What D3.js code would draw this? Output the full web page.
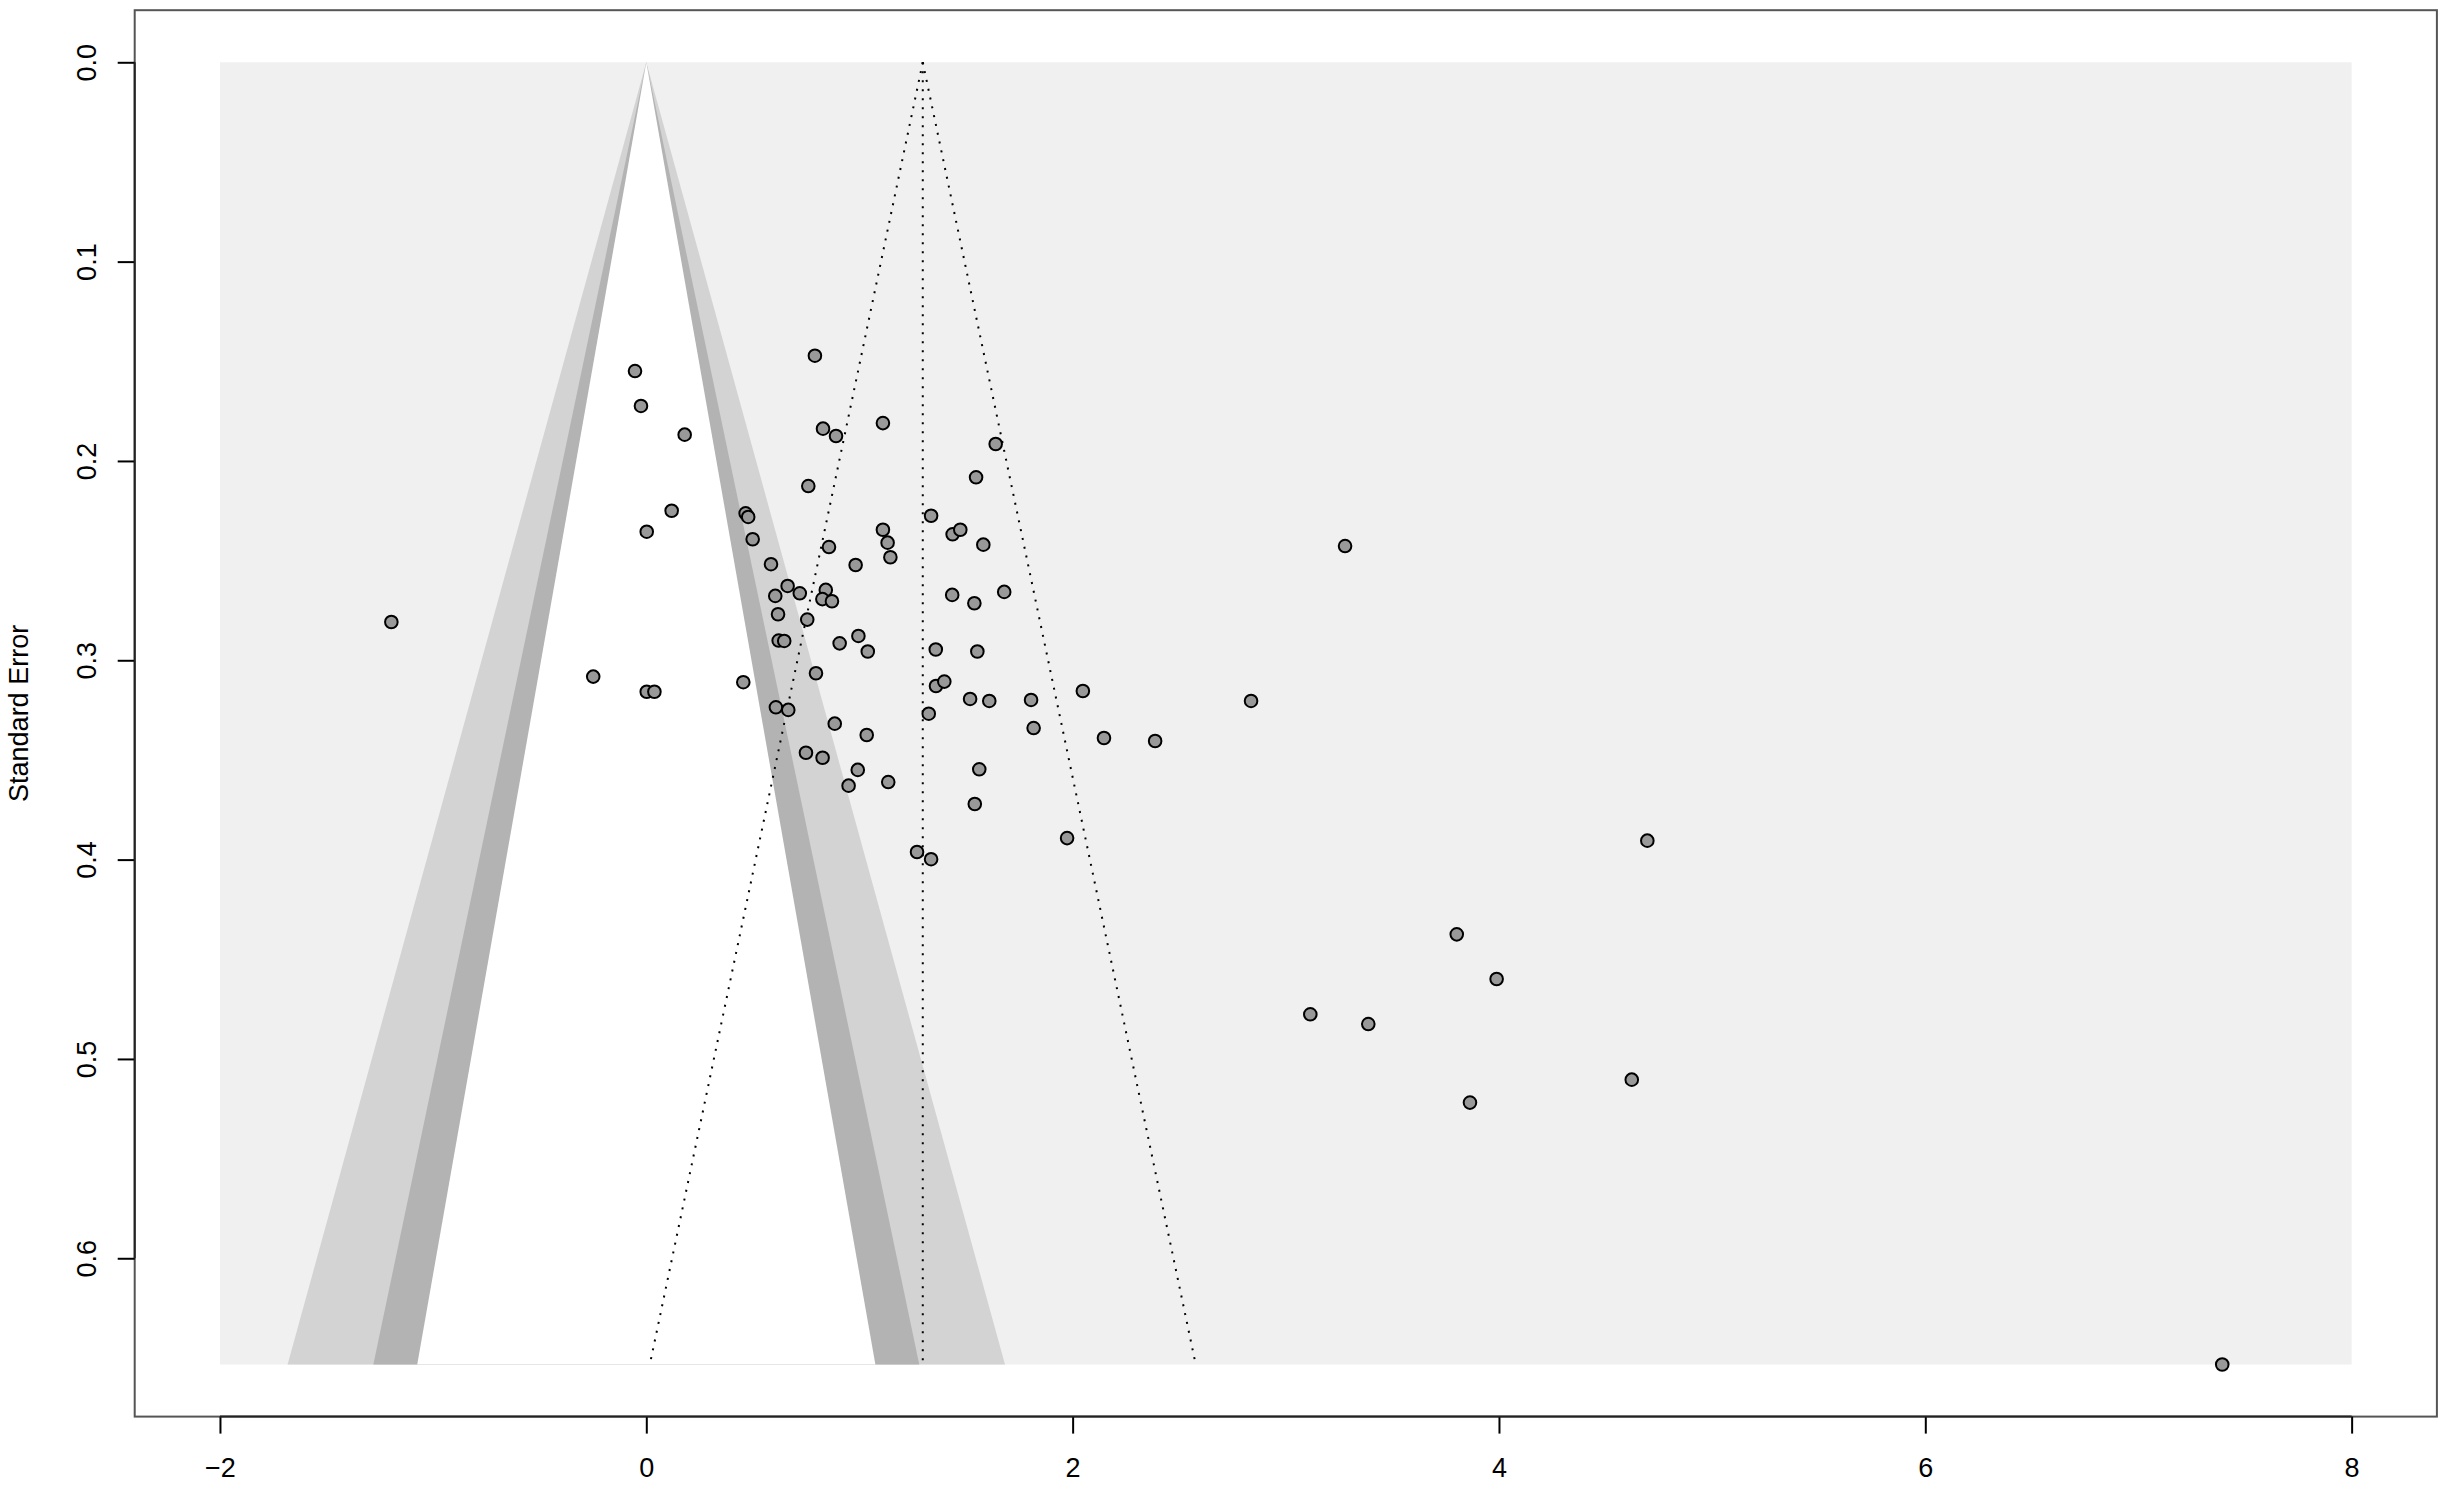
<!DOCTYPE html>
<html>
<head>
<meta charset="utf-8">
<script src="https://cdn.jsdelivr.net/npm/d3@7"></script>
<style>
  body { margin: 0; background: #fff; }
  text { font-family: 'Liberation Sans', Arial, sans-serif; }
</style>
</head>
<body>
<div id="funnel"></div>
<script>
// observed effects (yi) and their standard errors (sei)
const yi = [
  -0.053, -0.025, 0.180, 0.119, 0.002, 0.791, 0.829, 0.890, 1.110, 1.639,
  0.760, 1.547, 0.466, 0.478, 0.499, 1.336, 1.110, 1.132, 1.145, 1.437,
  1.473, 1.581, 0.857, 0.585, 0.982, 0.663, 0.720, 0.605, 0.842, 0.826,
  0.871, 1.435, 1.539, 1.679, 0.618, 0.755, 0.621, 0.647, 0.907, 0.995,
  1.039, 1.358, 1.553,
  -0.249, 0.002, 0.038, 0.455, 0.796, 1.359, 1.398, 1.519, 1.609, 0.608,
  0.666, 1.325, 0.884, 1.034, 0.749, 0.827, 0.992, 0.949, 1.135, 1.562,
  1.541, 1.270, 1.336,
  2.048, 2.837, 2.147, 2.387, 1.974, 1.805, 1.817, 3.278, -1.196,
  4.696, 3.802, 3.989, 3.115, 3.387, 4.623, 3.864, 7.393
];
const sei = [
  0.1549, 0.1724, 0.1868, 0.2250, 0.2355, 0.1472, 0.1838, 0.1875, 0.1810, 0.1915,
  0.2126, 0.2082, 0.2263, 0.2281, 0.2393, 0.2275, 0.2345, 0.2410, 0.2483, 0.2368,
  0.2345, 0.2420, 0.2432, 0.2518, 0.2522, 0.2627, 0.2664, 0.2677, 0.2647, 0.2693,
  0.2704, 0.2672, 0.2714, 0.2657, 0.2769, 0.2796, 0.2901, 0.2903, 0.2915, 0.2878,
  0.2956, 0.2946, 0.2956,
  0.3082, 0.3158, 0.3158, 0.3110, 0.3065, 0.3129, 0.3107, 0.3194, 0.3204, 0.3236,
  0.3249, 0.3268, 0.3318, 0.3375, 0.3464, 0.3489, 0.3550, 0.3629, 0.3611, 0.3547,
  0.3721, 0.3962, 0.3998,
  0.3154, 0.3204, 0.3390, 0.3405, 0.3892, 0.3199, 0.3340, 0.2427, 0.2808,
  0.3905, 0.4375, 0.4599, 0.4776, 0.4825, 0.5104, 0.5219, 0.6533
];

const estimate = 1.297;           // pooled estimate (dotted funnel centre)
const refline = 0;                // contour funnel centre
const levels = [99, 95, 90];      // contour levels, outer to inner
const zcrit = [2.5758, 1.9600, 1.6449];
const shades = ['#d3d3d3', '#b3b3b3', '#ffffff'];
const xTicks = [-2, 0, 2, 4, 6, 8];
const yTicks = [0, 0.1, 0.2, 0.3, 0.4, 0.5, 0.6];
const xlim = [-2, 8];

const W = 2445, H = 1489;
const plot = { left: 134.7, right: 2436.9, top: 10.2, bottom: 1416.6 };

const seMax = d3.max(sei);
const xPad = (xlim[1] - xlim[0]) * 0.04;
const yPad = seMax * 0.04;

const x = d3.scaleLinear().domain([xlim[0] - xPad, xlim[1] + xPad]).range([plot.left, plot.right]);
const y = d3.scaleLinear().domain([-yPad, seMax + yPad]).range([plot.top, plot.bottom]);

const svg = d3.select('#funnel')
  .append('svg')
  .attr('width', W)
  .attr('height', H);

svg.append('rect').attr('width', W).attr('height', H).attr('fill', '#fff');

// background of the region outside the outermost contour
svg.append('rect')
  .attr('x', x(xlim[0]))
  .attr('y', y(0))
  .attr('width', x(xlim[1]) - x(xlim[0]))
  .attr('height', y(seMax) - y(0))
  .attr('fill', '#f0f0f0');

// contour triangles
levels.forEach((lvl, i) => {
  const pts = [
    [refline, 0],
    [refline - zcrit[i] * seMax, seMax],
    [refline + zcrit[i] * seMax, seMax]
  ];
  svg.append('path')
    .attr('d', d3.line().x(d => x(d[0])).y(d => y(d[1]))(pts) + 'Z')
    .attr('fill', shades[i]);
});

// pseudo confidence region around the estimate
const dotted = '2,7';
svg.append('line')
  .attr('x1', x(estimate)).attr('x2', x(estimate))
  .attr('y1', y(0)).attr('y2', y(seMax))
  .attr('stroke', '#000').attr('stroke-width', 2).attr('stroke-dasharray', dotted);

[-1, 1].forEach(s => {
  svg.append('line')
    .attr('x1', x(estimate)).attr('y1', y(0))
    .attr('x2', x(estimate + s * 1.96 * seMax)).attr('y2', y(seMax))
    .attr('stroke', '#000').attr('stroke-width', 2).attr('stroke-dasharray', dotted);
});

// studies
const studies = yi.map((v, i) => ({ yi: v, sei: sei[i] }));
svg.selectAll('circle.study')
  .data(studies)
  .enter()
  .append('circle')
  .attr('class', 'study')
  .attr('cx', d => x(d.yi))
  .attr('cy', d => y(d.sei))
  .attr('r', 6.3)
  .attr('fill', '#999')
  .attr('stroke', '#000')
  .attr('stroke-width', 2);

// box
svg.append('rect')
  .attr('x', plot.left).attr('y', plot.top)
  .attr('width', plot.right - plot.left)
  .attr('height', plot.bottom - plot.top)
  .attr('fill', 'none')
  .attr('stroke', '#555')
  .attr('stroke-width', 2);

// axes
const xAxis = svg.append('g')
  .attr('transform', `translate(0,${plot.bottom})`)
  .call(d3.axisBottom(x).tickValues(xTicks).tickSize(17).tickPadding(24).tickFormat(d3.format('d')));

const yAxis = svg.append('g')
  .attr('transform', `translate(${plot.left},0)`)
  .call(d3.axisLeft(y).tickValues(yTicks).tickSize(17).tickFormat(d3.format('.1f')));

[xAxis, yAxis].forEach(g => {
  g.select('.domain').remove();
  g.selectAll('.tick line').attr('stroke', '#000').attr('stroke-width', 2);
  g.selectAll('text').attr('font-size', 27).attr('fill', '#000')
    .style('font-family', "'Liberation Sans', Arial, sans-serif");
});

// axis lines over the tick range
svg.append('line')
  .attr('x1', x(xTicks[0])).attr('x2', x(xTicks[xTicks.length - 1]))
  .attr('y1', plot.bottom).attr('y2', plot.bottom)
  .attr('stroke', '#222').attr('stroke-width', 2);
svg.append('line')
  .attr('x1', plot.left).attr('x2', plot.left)
  .attr('y1', y(yTicks[0])).attr('y2', y(yTicks[yTicks.length - 1]))
  .attr('stroke', '#222').attr('stroke-width', 2);

// y tick labels parallel to the axis
yAxis.selectAll('.tick text')
  .attr('x', null)
  .attr('dy', null)
  .attr('text-anchor', 'middle')
  .attr('transform', 'translate(-39,0) rotate(-90)');

svg.append('text')
  .attr('transform', `translate(28,${(plot.top + plot.bottom) / 2}) rotate(-90)`)
  .attr('text-anchor', 'middle')
  .attr('font-size', 27)
  .text('Standard Error');
</script>
</body>
</html>
